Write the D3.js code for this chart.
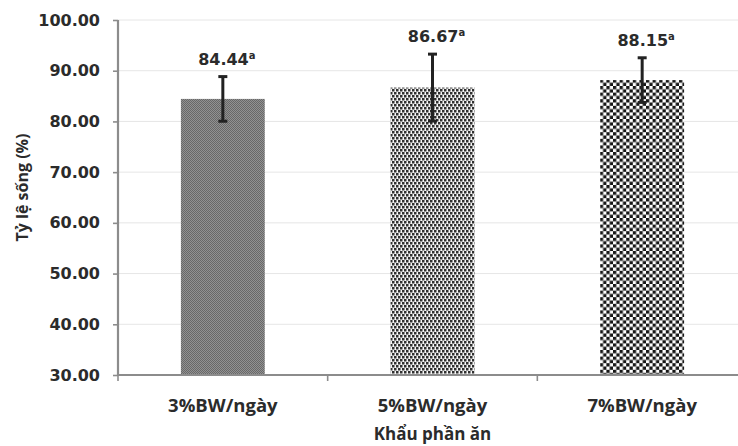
<!DOCTYPE html>
<html>
<head>
<meta charset="utf-8">
<script src="https://cdn.jsdelivr.net/npm/d3@7"></script>
<style>
  body { margin: 0; background: #fff; }
  svg { display: block; }
</style>
</head>
<body>
<script>
var categories = ["3%BW/ngày", "5%BW/ngày", "7%BW/ngày"];
var survival = [84.44, 86.67, 88.15];
var errors = [4.4, 6.6, 4.4];
var letters = ["a", "a", "a"];
var yTicks = [30, 40, 50, 60, 70, 80, 90, 100];
var patterns = ["pat-fine", "pat-dots", "pat-checker"];

var W = 738, H = 446;
var margin = { top: 20, right: -9, bottom: 71, left: 118 },
    width = W - margin.left - margin.right,
    height = H - margin.top - margin.bottom;

var data = categories.map(function (c, i) {
    return { cat: c, value: survival[i], err: errors[i], letter: letters[i], pat: patterns[i] };
});

var svg = d3.select("body").append("svg")
    .attr("width", W)
    .attr("height", H);

// fill patterns
var defs = svg.append("defs");
var p1 = defs.append("pattern").attr("id", "pat-fine")
    .attr("patternUnits", "userSpaceOnUse").attr("width", 2).attr("height", 2);
p1.append("rect").attr("width", 2).attr("height", 2).attr("fill", "#929292");
p1.append("rect").attr("width", 1).attr("height", 1).attr("fill", "#686868");
p1.append("rect").attr("x", 1).attr("y", 1).attr("width", 1).attr("height", 1).attr("fill", "#686868");

var p2 = defs.append("pattern").attr("id", "pat-dots")
    .attr("patternUnits", "userSpaceOnUse").attr("width", 4).attr("height", 6);
p2.append("rect").attr("width", 4).attr("height", 6).attr("fill", "#f6f6f6");
p2.append("rect").attr("x", 0).attr("y", 0).attr("width", 2.5).attr("height", 2.5).attr("fill", "#303030");
p2.append("rect").attr("x", 2).attr("y", 3).attr("width", 2).attr("height", 2.5).attr("fill", "#303030");
p2.append("rect").attr("x", 0).attr("y", 3).attr("width", 0.5).attr("height", 2.5).attr("fill", "#303030");

var p3 = defs.append("pattern").attr("id", "pat-checker")
    .attr("patternUnits", "userSpaceOnUse").attr("width", 6.6).attr("height", 6.6);
p3.append("rect").attr("width", 6.6).attr("height", 6.6).attr("fill", "#ffffff");
p3.append("rect").attr("width", 3.3).attr("height", 3.3).attr("fill", "#161616");
p3.append("rect").attr("x", 3.3).attr("y", 3.3).attr("width", 3.3).attr("height", 3.3).attr("fill", "#161616");

var g = svg.append("g")
    .attr("transform", "translate(" + margin.left + "," + margin.top + ")");

var x = d3.scaleBand()
    .domain(categories)
    .range([0, width])
    .paddingInner(0.6)
    .paddingOuter(0.3);

var y = d3.scaleLinear()
    .domain([30, 100])
    .range([height, 0]);

// gridlines
g.append("g")
    .selectAll("line")
    .data(yTicks)
    .enter().append("line")
    .attr("x1", 0)
    .attr("x2", width)
    .attr("y1", function (d) { return y(d); })
    .attr("y2", function (d) { return y(d); })
    .attr("stroke", "#e6e6e6")
    .attr("stroke-width", 1);

// bars
g.selectAll(".bar")
    .data(data)
    .enter().append("rect")
    .attr("class", "bar")
    .attr("x", function (d) { return x(d.cat); })
    .attr("width", x.bandwidth())
    .attr("y", function (d) { return y(d.value); })
    .attr("height", function (d) { return height - y(d.value); })
    .attr("fill", function (d) { return "url(#" + d.pat + ")"; });

// y axis
var yAxis = g.append("g")
    .call(d3.axisLeft(y)
        .tickValues(yTicks)
        .tickSize(5)
        .tickPadding(13)
        .tickFormat(d3.format(".2f")));
yAxis.select(".domain").attr("stroke", "#8c8c8c").attr("stroke-width", 2.2)
    .attr("d", "M0," + height + "V0");
yAxis.selectAll(".tick line").attr("stroke", "#8c8c8c").attr("stroke-width", 1.6);
yAxis.selectAll("text")
    .style("font-family", "'DejaVu Sans', sans-serif")
    .style("font-weight", "bold")
    .style("font-size", "16px")
    .attr("fill", "#2b2b2b");

// x axis
var xAxis = g.append("g")
    .attr("transform", "translate(0," + height + ")")
    .call(d3.axisBottom(x).tickSize(0).tickPadding(24));
xAxis.select(".domain").attr("stroke", "#8c8c8c").attr("stroke-width", 2.2)
    .attr("d", "M0,0H" + width);
xAxis.selectAll("text")
    .style("font-family", "'Open Sans', sans-serif")
    .style("font-weight", "bold")
    .style("font-size", "18.5px")
    .attr("fill", "#2b2b2b");

// category boundary ticks
var gap = (x.step() - x.bandwidth()) / 2;
xAxis.selectAll(".bound")
    .data(categories)
    .enter().append("line")
    .attr("class", "bound")
    .attr("x1", function (d) { return x(d) - gap; })
    .attr("x2", function (d) { return x(d) - gap; })
    .attr("y1", 0)
    .attr("y2", 6)
    .attr("stroke", "#8c8c8c")
    .attr("stroke-width", 1.6);

// error bars
var eb = g.selectAll(".err")
    .data(data)
    .enter().append("g")
    .attr("class", "err")
    .attr("stroke", "#222")
    .attr("stroke-width", 3);
eb.append("line")
    .attr("x1", function (d) { return x(d.cat) + x.bandwidth() / 2; })
    .attr("x2", function (d) { return x(d.cat) + x.bandwidth() / 2; })
    .attr("y1", function (d) { return y(d.value + d.err); })
    .attr("y2", function (d) { return y(d.value - d.err); });
eb.append("line")
    .attr("x1", function (d) { return x(d.cat) + x.bandwidth() / 2 - 4.5; })
    .attr("x2", function (d) { return x(d.cat) + x.bandwidth() / 2 + 4.5; })
    .attr("y1", function (d) { return y(d.value + d.err); })
    .attr("y2", function (d) { return y(d.value + d.err); });
eb.append("line")
    .attr("x1", function (d) { return x(d.cat) + x.bandwidth() / 2 - 4.5; })
    .attr("x2", function (d) { return x(d.cat) + x.bandwidth() / 2 + 4.5; })
    .attr("y1", function (d) { return y(d.value - d.err); })
    .attr("y2", function (d) { return y(d.value - d.err); });

// value labels
var lbl = g.selectAll(".vlabel")
    .data(data)
    .enter().append("text")
    .attr("class", "vlabel")
    .attr("x", function (d) { return x(d.cat) + x.bandwidth() / 2 + 4; })
    .attr("y", function (d) { return y(d.value + d.err) - 12; })
    .attr("text-anchor", "middle")
    .style("font-family", "'DejaVu Sans', sans-serif")
    .style("font-weight", "bold")
    .style("font-size", "16px")
    .attr("fill", "#2b2b2b");
lbl.append("tspan").text(function (d) { return d.value.toFixed(2); });
lbl.append("tspan")
    .attr("dy", -6)
    .style("font-size", "10px")
    .text(function (d) { return d.letter; });

// axis titles
svg.append("text")
    .attr("transform", "translate(28," + (margin.top + height / 2 - 10) + ") rotate(-90)")
    .attr("text-anchor", "middle")
    .style("font-family", "'Open Sans', sans-serif")
    .style("font-weight", "bold")
    .style("font-size", "16px")
    .attr("fill", "#2b2b2b")
    .text("Tỷ lệ sống (%)");

svg.append("text")
    .attr("x", margin.left + x.step() * 1.5)
    .attr("y", 440)
    .attr("text-anchor", "middle")
    .style("font-family", "'Open Sans', sans-serif")
    .style("font-weight", "bold")
    .style("font-size", "17px")
    .attr("fill", "#2b2b2b")
    .text("Khẩu phần ăn");
</script>
</body>
</html>
